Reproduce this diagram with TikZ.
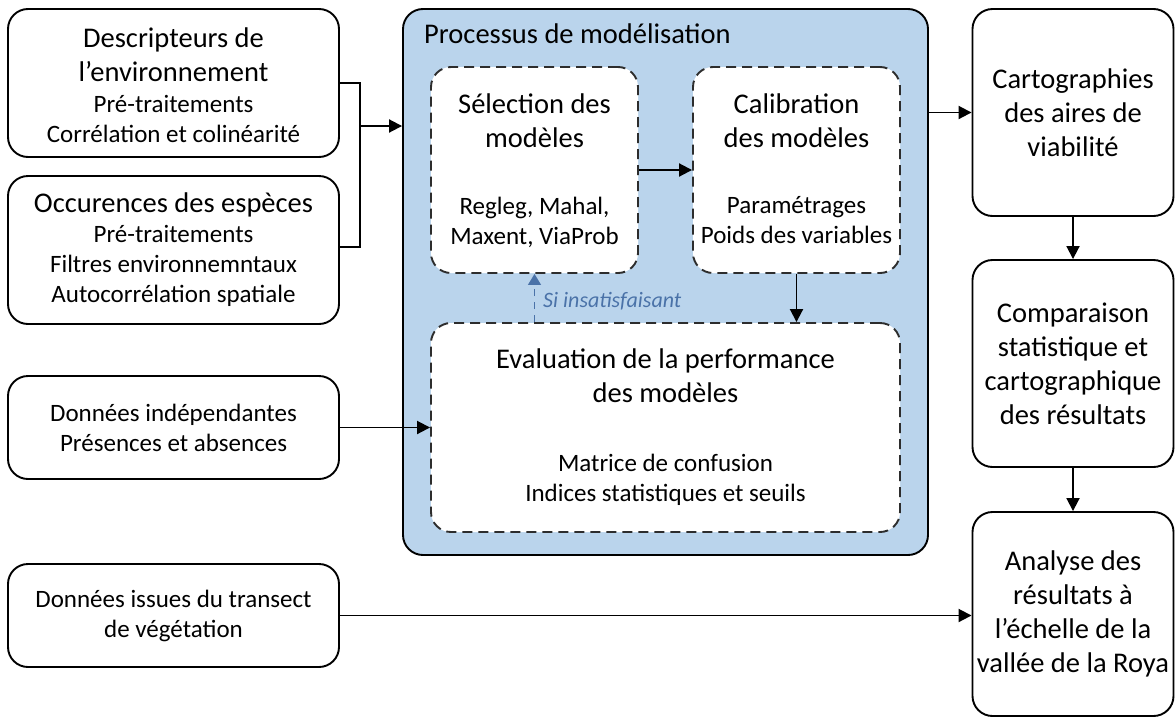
\documentclass[tikz,border=0pt]{standalone}
\usepackage{fontspec}
\setmainfont{Carlito}
\usetikzlibrary{arrows.meta}
\definecolor{procfill}{RGB}{186,212,236}
\definecolor{fbblue}{RGB}{74,114,168}
\definecolor{dashgray}{RGB}{45,45,45}
\newcommand{\TF}{\fontsize{28.5}{34}\selectfont}
\newcommand{\SF}{\fontsize{25}{30}\selectfont}
\begin{document}
\begin{tikzpicture}[x=1pt,y=-1pt,
  solidbox/.style={draw=black, line width=1.9pt, rounded corners=20pt, fill=white, inner sep=0pt},
  dashbox/.style={draw=dashgray, line width=1.9pt, dash pattern=on 10pt off 6pt, rounded corners=20pt, fill=white, inner sep=0pt},
  procbox/.style={draw=black, line width=1.9pt, rounded corners=20pt, fill=procfill, inner sep=0pt},
  ttxt/.style={font=\TF, align=center, inner sep=0pt},
  stxt/.style={font=\SF, align=center, inner sep=0pt},
  arr/.style={line width=1.9pt, -{Triangle[length=13pt,width=13pt]}},
  conn/.style={line width=1.9pt},
  fbarr/.style={draw=fbblue, line width=1.3pt, dash pattern=on 7pt off 6pt, -{Triangle[length=11pt,width=13pt,fill=fbblue]}}
]
\useasboundingbox (0,0) rectangle (1175,718);

% process container
\node[procbox, minimum width=525, minimum height=546] (proc) at (665.5,282) {};
\node[font=\TF, anchor=base west, inner sep=0pt] (proct) at (424,43) {Processus de modélisation};

% left input boxes
\node[solidbox, minimum width=331, minimum height=148] (desc) at (173.5,83) {};
\node[ttxt] (desct) at (173.5,55) {Descripteurs de\\l’environnement};
\node[stxt] (descs) at (173.5,119) {Pré-traitements\\Corrélation et colinéarité};

\node[solidbox, minimum width=331, minimum height=148] (occ) at (173.5,250) {};
\node[ttxt] (occt) at (173.5,205) {Occurences des espèces};
\node[stxt] (occs) at (173.5,266) {Pré-traitements\\Filtres environnemntaux\\Autocorrélation spatiale};

\node[solidbox, minimum width=331, minimum height=103, font=\SF, align=center] (indep) at (173.5,427.5) {Données indépendantes\\Présences et absences};

\node[solidbox, minimum width=331, minimum height=103, font=\SF, align=center] (trans) at (173.5,615.5) {Données issues du transect\\de végétation};

% inner dashed boxes
\node[dashbox, minimum width=207, minimum height=206] (sel) at (534.5,170) {};
\node[ttxt] (selt) at (534.5,121) {Sélection des\\modèles};
\node[stxt] (sels) at (534.5,222) {Regleg, Mahal,\\Maxent, ViaProb};

\node[dashbox, minimum width=207, minimum height=206] (cal) at (796.5,170) {};
\node[ttxt] (calt) at (796.5,121) {Calibration\\des modèles};
\node[stxt] (cals) at (796.5,220) {Paramétrages\\Poids des variables};

\node[dashbox, minimum width=469, minimum height=209] (eval) at (665.5,427.5) {};
\node[ttxt] (evalt) at (665.5,375.5) {Evaluation de la performance\\des modèles};
\node[stxt] (evals) at (665.5,480) {Matrice de confusion\\Indices statistiques et seuils};

% right column
\node[solidbox, minimum width=201, minimum height=207, font=\TF, align=center] (cart) at (1073,112.5) {Cartographies\\des aires de\\viabilité};
\node[solidbox, minimum width=201, minimum height=207, font=\TF, align=center] (comp) at (1073,363.5) {Comparaison\\statistique et\\cartographique\\des résultats};
\node[solidbox, minimum width=201, minimum height=204, font=\TF, align=center] (anal) at (1073,614) {Analyse des\\résultats à\\l’échelle de la\\vallée de la Roya};

% connectors
\coordinate (brk) at (360,126);
\draw[conn] (desc.east |- 0,83) -| (brk) |- (occ.east |- 0,247);
\draw[arr] (brk) -- (brk -| proc.west);
\draw[arr] (sel.east) -- (cal.west);
\draw[arr] (cal.south) -- (cal.south |- eval.north);
\draw[fbarr] (eval.north -| sel.south) -- (sel.south);
\node[font=\fontsize{22}{26}\selectfont\itshape, text=fbblue, anchor=base west, inner sep=0pt] (fbl) at (543,307) {Si insatisfaisant};
\draw[arr] (indep.east) -- (indep.east -| eval.west);
\draw[arr] (trans.east) -- (trans.east -| anal.west);
\draw[arr] (proc.east |- cart.west) -- (cart.west);
\draw[arr] (cart.south) -- (comp.north);
\draw[arr] (comp.south) -- (anal.north);
\end{tikzpicture}
\end{document}
